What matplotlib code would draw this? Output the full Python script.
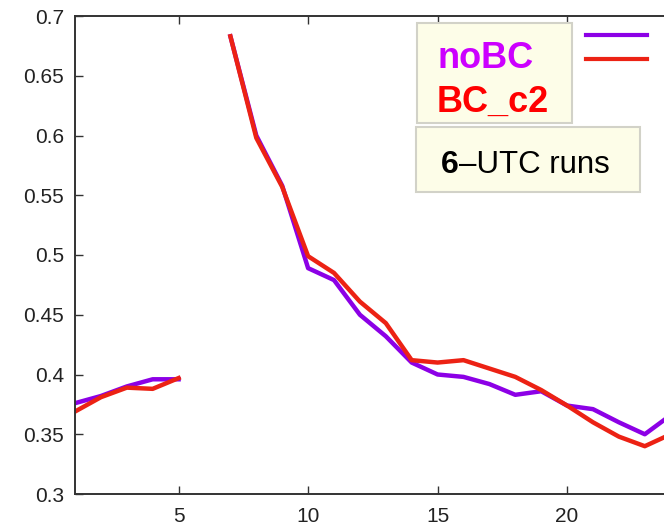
import numpy as np
import matplotlib
matplotlib.use('Agg')
import matplotlib.pyplot as plt
from matplotlib.patches import Rectangle
from matplotlib.lines import Line2D

# forecast hour (x=6 has no data)
hours = list(range(1, 25))
nobc = [0.376, 0.382, 0.390, 0.396, 0.396, np.nan, 0.683, 0.600, 0.558, 0.489, 0.479, 0.450,
        0.432, 0.410, 0.400, 0.398, 0.392, 0.383, 0.386, 0.374, 0.371, 0.360, 0.350, 0.366]
bc_c2 = [0.369, 0.381, 0.389, 0.388, 0.397, np.nan, 0.683, 0.598, 0.557, 0.499, 0.485, 0.461,
         0.443, 0.412, 0.410, 0.412, 0.405, 0.398, 0.387, 0.374, 0.360, 0.348, 0.340, 0.350]
yticks = [0.3, 0.35, 0.4, 0.45, 0.5, 0.55, 0.6, 0.65, 0.7]
ytick_labels = ['0.3', '0.35', '0.4', '0.45', '0.5', '0.55', '0.6', '0.65', '0.7']
xticks = [5, 10, 15, 20]

purple = '#8c00e6'
red = '#ec2214'

W, H = 664, 528
fig = plt.figure(figsize=(W / 100, H / 100), dpi=100)
# right side of the plot is cut off in the reference, so axes run past the figure edge
ax = fig.add_axes([75 / W, (H - 494) / H, 24 * 25.9 / W, 478 / H])

ax.plot(hours, nobc, color=purple, lw=3.2)
ax.plot(hours, bc_c2, color=red, lw=3.2)

ax.set_xlim(1, 25)
ax.set_ylim(0.3, 0.7)
ax.set_xticks(xticks)
ax.set_yticks(yticks)
ax.set_yticklabels(ytick_labels)
tick_font = ['Liberation Sans Narrow', 'Liberation Sans', 'DejaVu Sans']
for lab in ax.get_xticklabels() + ax.get_yticklabels():
    lab.set_family(tick_font)
    lab.set_fontsize(15)
    lab.set_color('#222222')
ax.tick_params(axis='both', direction='in', length=6, width=1, color='#333333')
ax.tick_params(axis='x', top=True, pad=9)
ax.tick_params(axis='y', pad=8)
for sp in ax.spines.values():
    sp.set_linewidth(1.4)
    sp.set_color('#333333')

# legend boxes
cream = '#fdfde8'
edge = '#d2d2c8'
fig.add_artist(Rectangle((586 / W - 0.005, (H - 70) / H), 0.1, 50 / H,
                         transform=fig.transFigure, facecolor='white', edgecolor='none', zorder=3))
fig.add_artist(Line2D([586 / W, 647 / W], [(H - 35) / H] * 2, transform=fig.transFigure,
                      color=purple, lw=3, zorder=4))
fig.add_artist(Line2D([586 / W, 647 / W], [(H - 59) / H] * 2, transform=fig.transFigure,
                      color=red, lw=3, zorder=4))
fig.add_artist(Rectangle((417 / W, (H - 123) / H), 155 / W, 100 / H, transform=fig.transFigure,
                         facecolor=cream, edgecolor=edge, lw=1.5, zorder=3))
fig.add_artist(Rectangle((416 / W, (H - 192) / H), 224 / W, 65 / H, transform=fig.transFigure,
                         facecolor=cream, edgecolor=edge, lw=1.5, zorder=3))

txt_font = ['Liberation Sans', 'DejaVu Sans']
fig.text(437 / W, (H - 68) / H, 'noBC', color='#cc00ff', fontsize=26, fontweight='bold',
         family=txt_font, va='baseline', zorder=5)
fig.text(437 / W, (H - 112) / H, 'BC_c2', color='#ff0000', fontsize=26, fontweight='bold',
         family=txt_font, va='baseline', zorder=5)
fig.text(441 / W, (H - 173) / H, '6', color='black', fontsize=23, fontweight='bold',
         family=txt_font, va='baseline', zorder=5)
fig.text(459 / W, (H - 173) / H, '\u2013UTC runs', color='black', fontsize=22.5,
         family=txt_font, va='baseline', zorder=5)

fig.savefig('out.png', dpi=100)
